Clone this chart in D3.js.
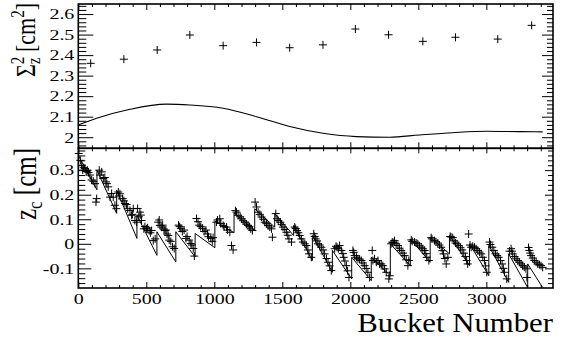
<!DOCTYPE html>
<html><head><meta charset="utf-8">
<script src="https://cdn.jsdelivr.net/npm/d3@7"></script>
<style>
body{margin:0;background:#fff}
text{font-family:"Liberation Serif","Times New Roman",serif;fill:#000}
</style></head>
<body><svg id="c" width="562" height="337"></svg>
<script>
// ---------- data ----------
const xTickValues = [0, 500, 1000, 1500, 2000, 2500, 3000];
const topYTickValues = [2.0, 2.1, 2.2, 2.3, 2.4, 2.5, 2.6];
const topYTickLabels = ["2", "2.1", "2.2", "2.3", "2.4", "2.5", "2.6"];
const botYTickValues = [-0.1, 0, 0.1, 0.2, 0.3];
const botYTickLabels = ["-0.1", "0", "0.1", "0.2", "0.3"];

// top panel: measured Sigma_z^2 points
const sigmaBuckets = [91, 335, 580, 820, 1065, 1310, 1554, 1799, 2037, 2281, 2533, 2773, 3084, 3333];
const sigmaValues  = [2.36, 2.38, 2.425, 2.498, 2.446, 2.462, 2.436, 2.45, 2.527, 2.499, 2.467, 2.487, 2.478, 2.545];
// top panel: model curve
const sigmaCurveBuckets = [0, 135, 380, 649, 820, 1065, 1310, 1554, 1799, 2044, 2289, 2509, 2753, 2999, 3243, 3414];
const sigmaCurveValues  = [2.06, 2.092, 2.136, 2.161, 2.157, 2.141, 2.10, 2.052, 2.019, 2.003, 2.0, 2.011, 2.022, 2.029, 2.027, 2.026];

// bottom panel: bunch trains (model sawtooth)
const trainStart      = [0, 137, 282, 431, 578, 717, 859, 1004, 1145, 1297, 1444, 1583, 1721, 1868, 2010, 2154, 2294, 2441, 2587, 2729, 2876, 3018, 3164, 3304];
const trainEnd        = [137, 282, 431, 578, 717, 859, 1004, 1145, 1297, 1444, 1583, 1721, 1868, 2010, 2154, 2294, 2441, 2587, 2729, 2876, 3018, 3164, 3304, 3414];
const trainStartValue = [0.36, 0.30, 0.219, 0.117, 0.049, 0.049, 0.042, 0.092, 0.126, 0.143, 0.123, 0.075, 0.034, -0.027, -0.055, -0.055, 0.0, 0.02, 0.027, 0.034, 0.0, -0.007, -0.041, -0.082];
const trainEndValue   = [0.22, 0.124, 0.022, -0.047, -0.074, -0.053, -0.016, 0.045, 0.054, 0.068, 0.034, -0.068, -0.116, -0.143, -0.15, -0.13, -0.089, -0.075, -0.041, -0.089, -0.13, -0.157, -0.178, -0.178];

// bottom panel: measured z_c points
const zcBuckets = [
  3, 25, 40, 49, 58, 66, 86, 98, 123, 130, 135,
  154, 172, 184, 203, 220, 233, 257, 269, 280,
  294, 306, 326, 343, 363, 380, 392, 404, 416, 429,
  436, 453, 460, 465, 482, 502, 521, 539, 551, 565,
  587, 595, 600, 620, 637, 644, 661, 668, 693, 705,
  737, 754, 778, 791, 815, 827, 845, 853,
  869, 889, 913, 938, 957, 974, 991,
  1016, 1023, 1040, 1048, 1065, 1072, 1090, 1097, 1114, 1126, 1138,
  1163, 1175, 1200, 1224, 1248, 1268, 1280,
  1310, 1322, 1347, 1371, 1395, 1420, 1427,
  1452, 1461, 1486, 1505, 1530, 1549, 1567,
  1591, 1608, 1628, 1652, 1677, 1696, 1713,
  1731, 1745, 1762, 1787, 1811, 1836, 1860,
  1885, 1902, 1921, 1934, 1951, 1971, 1990,
  2019, 2032, 2056, 2081, 2105, 2129, 2142,
  2161, 2166, 2178, 2191, 2203, 2215, 2227, 2239, 2252, 2264, 2283, 2290,
  2308, 2325, 2350, 2374, 2399, 2423, 2430,
  2448, 2472, 2496, 2521, 2546, 2562, 2577,
  2594, 2619, 2643, 2668, 2685, 2705, 2717,
  2734, 2753, 2773, 2797, 2822, 2846, 2863, 2870,
  2888, 2913, 2937, 2962, 2986, 3003,
  3023, 3043, 3067, 3091, 3116, 3133, 3150,
  3182, 3194, 3219, 3243, 3267, 3291, 3298,
  3316, 3329, 3353, 3378, 3402, 3414,
  15, 33, 75, 110,
  160, 195, 210, 245,
  300, 335, 355, 398,
  445, 490, 510, 530,
  610, 630, 652, 680,
  745, 765, 800, 835,
  880, 900, 925, 950, 985,
  1155, 1190, 1212, 1236, 1258,
  1300, 1335, 1360, 1383, 1408,
  1470, 1495, 1518, 1540,
  1598, 1618, 1640, 1665, 1688,
  1738, 1755, 1775, 1800, 1825, 1848,
  1895, 1912, 1945, 1960, 1980,
  2025, 2045, 2068, 2093, 2117,
  2300, 2315, 2337, 2362, 2387, 2411,
  2455, 2484, 2508, 2533, 2555,
  2600, 2630, 2655, 2676, 2695,
  2740, 2763, 2785, 2810, 2834, 2855,
  2880, 2900, 2925, 2950, 2974, 2995,
  3030, 3055, 3079, 3104, 3125,
  3170, 3188, 3207, 3231, 3255, 3279,
  3310, 3322, 3341, 3366, 3390
];
const zcValues = [
  0.368, 0.32, 0.31, 0.307, 0.295, 0.30, 0.28, 0.26, 0.245, 0.17, 0.184,
  0.30, 0.293, 0.266, 0.252, 0.232, 0.19, 0.19, 0.157, 0.143,
  0.211, 0.204, 0.184, 0.164, 0.143, 0.136, 0.116, 0.143, 0.095, 0.088,
  0.144, 0.129, 0.117, 0.095, 0.061, 0.061, 0.054, 0.054, 0.013, 0.02,
  0.088, 0.097, 0.075, 0.076, 0.054, 0.056, 0.034, 0.015, -0.012, -0.019,
  0.076, 0.063, 0.056, 0.022, 0.015, 0.001, -0.019, -0.05,
  0.103, 0.076, 0.063, 0.056, 0.029, 0.022, 0.025,
  0.088, 0.097, 0.102, 0.083, 0.075, 0.07, 0.068, 0.056, 0.047, -0.007, -0.025,
  0.129, 0.116, 0.102, 0.088, 0.075, 0.061, 0.054,
  0.15, 0.129, 0.109, 0.088, 0.075, 0.061, 0.027,
  0.123, 0.102, 0.088, 0.068, 0.047, 0.02, 0.007,
  0.068, 0.054, 0.034, 0.007, -0.007, -0.041, -0.055,
  0.041, 0.02, 0.0, -0.014, -0.041, -0.075, -0.109,
  -0.02, -0.014, -0.007, -0.027, -0.055, -0.089, -0.137,
  -0.027, -0.048, -0.061, -0.068, -0.089, -0.116, -0.137,
  -0.027, -0.068, -0.061, -0.075, -0.068, -0.082, -0.082, -0.089, -0.102, -0.116, -0.143, -0.13,
  0.007, 0.013, -0.007, -0.027, -0.048, -0.089, -0.068,
  0.016, 0.007, 0.0, -0.014, -0.027, -0.055, -0.068,
  0.025, 0.013, 0.003, -0.014, -0.041, -0.082, -0.055,
  0.03, 0.025, 0.003, -0.007, -0.025, -0.052, -0.082, 0.04,
  -0.014, -0.014, -0.027, -0.041, -0.068, -0.116,
  0.007, -0.014, -0.041, -0.055, -0.082, -0.116, -0.143,
  -0.02, -0.041, -0.061, -0.075, -0.089, -0.102, -0.137,
  -0.027, -0.048, -0.068, -0.082, -0.089, -0.096,
  0.34, 0.30, 0.29, 0.255,
  0.28, 0.27, 0.245, 0.205,
  0.195, 0.175, 0.16, 0.12,
  0.11, 0.07, 0.065, 0.045,
  0.068, 0.06, 0.04, 0.01,
  0.07, 0.05, 0.03, -0.005,
  0.09, 0.07, 0.05, 0.04, 0.01,
  0.135, 0.11, 0.094, 0.08, 0.07,
  0.17, 0.12, 0.10, 0.082, 0.068,
  0.095, 0.078, 0.058, 0.035,
  0.062, 0.045, 0.02, 0.0, -0.025,
  0.03, 0.012, -0.005, -0.025, -0.06, -0.09,
  -0.01, -0.02, -0.04, -0.07, -0.11,
  -0.035, -0.055, -0.062, -0.078, -0.10,
  0.0, 0.005, 0.0, -0.018, -0.038, -0.065,
  0.01, 0.003, -0.008, -0.02, -0.04,
  0.02, 0.008, -0.005, -0.028, -0.06,
  0.028, 0.012, 0.0, -0.016, -0.038, -0.068,
  -0.005, -0.01, -0.02, -0.034, -0.055, -0.09,
  -0.003, -0.027, -0.048, -0.068, -0.10,
  -0.03, -0.03, -0.052, -0.068, -0.082, -0.095,
  -0.015, -0.038, -0.058, -0.075, -0.085
];

// ---------- layout ----------
const svg = d3.select("#c");
const L = 78.3, R = 553, T1 = 4, B1 = 148.3, B2 = 288;
const SX = 1.33; // horizontal stretch of glyphs in the reference

const x = d3.scaleLinear().domain([0, 3490]).range([L, R]);
const yTop = d3.scaleLinear().domain([1.946, 2.649]).range([B1, T1]);
const yBot = d3.scaleLinear().domain([-0.18, 0.389]).range([B2, B1]);

const minorX = d3.range(0, 3491, 100).filter(v => v % 500 !== 0);
const minorTop = d3.range(1.96, 2.6401, 0.02).filter(v => Math.abs(v*10 - Math.round(v*10)) > 0.01);
const minorBot = d3.range(-0.16, 0.3801, 0.02).filter(v => Math.abs(v*10 - Math.round(v*10)) > 0.01);

function axisG(axis, tx, ty) {
  const g = svg.append("g").attr("transform", `translate(${tx},${ty})`).call(axis);
  g.select(".domain").remove();
  g.attr("font-family", null);
  g.selectAll(".tick line").attr("stroke", "#000").attr("stroke-width", 1);
  return g;
}
function noLabels(a) { return a.tickFormat(() => ""); }

// --- top panel axes ---
axisG(d3.axisLeft(yTop).tickValues(topYTickValues).tickSize(-15).tickPadding(3)
  .tickFormat((d, i) => topYTickLabels[i]), L, 0)
  .selectAll("text").attr("font-size", 15)
  .attr("transform", `scale(${SX},1)`);
axisG(noLabels(d3.axisLeft(yTop).tickValues(minorTop).tickSize(-8)), L, 0);
axisG(noLabels(d3.axisRight(yTop).tickValues(topYTickValues).tickSize(-11)), R, 0);
axisG(noLabels(d3.axisRight(yTop).tickValues(minorTop).tickSize(-6)), R, 0);
axisG(noLabels(d3.axisTop(x).tickValues(xTickValues).tickSize(-6)), 0, T1);
axisG(noLabels(d3.axisTop(x).tickValues(minorX).tickSize(-3)), 0, T1);
axisG(noLabels(d3.axisBottom(x).tickValues(xTickValues).tickSize(-6)), 0, B1);
axisG(noLabels(d3.axisBottom(x).tickValues(minorX).tickSize(-3)), 0, B1);

// --- bottom panel axes ---
axisG(d3.axisLeft(yBot).tickValues(botYTickValues).tickSize(-13).tickPadding(3)
  .tickFormat((d, i) => botYTickLabels[i]), L, 0)
  .selectAll("text").attr("font-size", 15)
  .attr("transform", `scale(${SX},1)`);
axisG(noLabels(d3.axisLeft(yBot).tickValues(minorBot).tickSize(-7)), L, 0);
axisG(noLabels(d3.axisRight(yBot).tickValues(botYTickValues).tickSize(-8)), R, 0);
axisG(noLabels(d3.axisRight(yBot).tickValues(minorBot).tickSize(-5)), R, 0);
axisG(noLabels(d3.axisTop(x).tickValues(xTickValues).tickSize(-5)), 0, B1);
axisG(noLabels(d3.axisTop(x).tickValues(minorX).tickSize(-3)), 0, B1);
const xb = axisG(d3.axisBottom(x).tickValues(xTickValues).tickSize(-6).tickPadding(5).tickFormat(d3.format("d")), 0, B2);
xb.selectAll("text").attr("font-size", 15)
  .attr("transform", `scale(${SX},1)`);
axisG(noLabels(d3.axisBottom(x).tickValues(minorX).tickSize(-3)), 0, B2);

// --- frames ---
svg.append("rect").attr("x", L).attr("y", T1).attr("width", R - L).attr("height", B1 - T1)
  .attr("fill", "none").attr("stroke", "#000").attr("stroke-width", 1.6);
svg.append("rect").attr("x", L).attr("y", B1).attr("width", R - L).attr("height", B2 - B1)
  .attr("fill", "none").attr("stroke", "#000").attr("stroke-width", 1.6);

const cross = "M-4,0H4M0,-4V4";

// --- top panel marks ---
svg.append("path")
  .datum(sigmaCurveBuckets.map((b, i) => [b, sigmaCurveValues[i]]))
  .attr("fill", "none").attr("stroke", "#000").attr("stroke-width", 1.1)
  .attr("d", d3.line().x(d => x(d[0])).y(d => yTop(d[1])).curve(d3.curveMonotoneX));
svg.append("g").selectAll("path").data(sigmaBuckets.map((b, i) => [b, sigmaValues[i]]))
  .join("path").attr("d", cross).attr("stroke", "#000").attr("stroke-width", 1)
  .attr("transform", d => `translate(${x(d[0])},${yTop(d[1])})`);

// --- bottom panel marks ---
const saw = [];
trainStart.forEach((s, i) => { saw.push([s, trainStartValue[i]]); saw.push([trainEnd[i], trainEndValue[i]]); });
svg.append("path").datum(saw)
  .attr("fill", "none").attr("stroke", "#000").attr("stroke-width", 1)
  .attr("d", d3.line().x(d => x(d[0])).y(d => yBot(d[1])));
svg.append("g").selectAll("path").data(zcBuckets.map((b, i) => [b, zcValues[i]]))
  .join("path").attr("d", cross).attr("stroke", "#000").attr("stroke-width", 1)
  .attr("transform", d => `translate(${x(d[0])},${yBot(d[1])})`);

// --- titles ---
const tTop = svg.append("text").attr("font-size", 22).attr("text-anchor", "end")
  .attr("transform", `translate(35,3) scale(1.25,1) rotate(-90)`);
tTop.append("tspan").text("Σ");
tTop.append("tspan").attr("font-size", 15).attr("dy", -9).text("2");
tTop.append("tspan").attr("font-size", 15).attr("dx", -7.5).attr("dy", 13).text("z");
tTop.append("tspan").attr("dy", -4).text(" [cm");
tTop.append("tspan").attr("font-size", 15).attr("dy", -9).text("2");
tTop.append("tspan").attr("dy", 9).text("]");

const tBot = svg.append("text").attr("font-size", 25).attr("text-anchor", "end")
  .attr("transform", `translate(36,148) scale(1.25,1) rotate(-90)`);
tBot.append("tspan").text("z");
tBot.append("tspan").attr("font-size", 17).attr("dy", 5).text("c");
tBot.append("tspan").attr("dy", -5).text(" [cm]");

svg.append("text").attr("font-size", 27).attr("text-anchor", "end")
  .attr("transform", `translate(553,332) scale(1.14,1)`).text("Bucket Number");
</script></body></html>
